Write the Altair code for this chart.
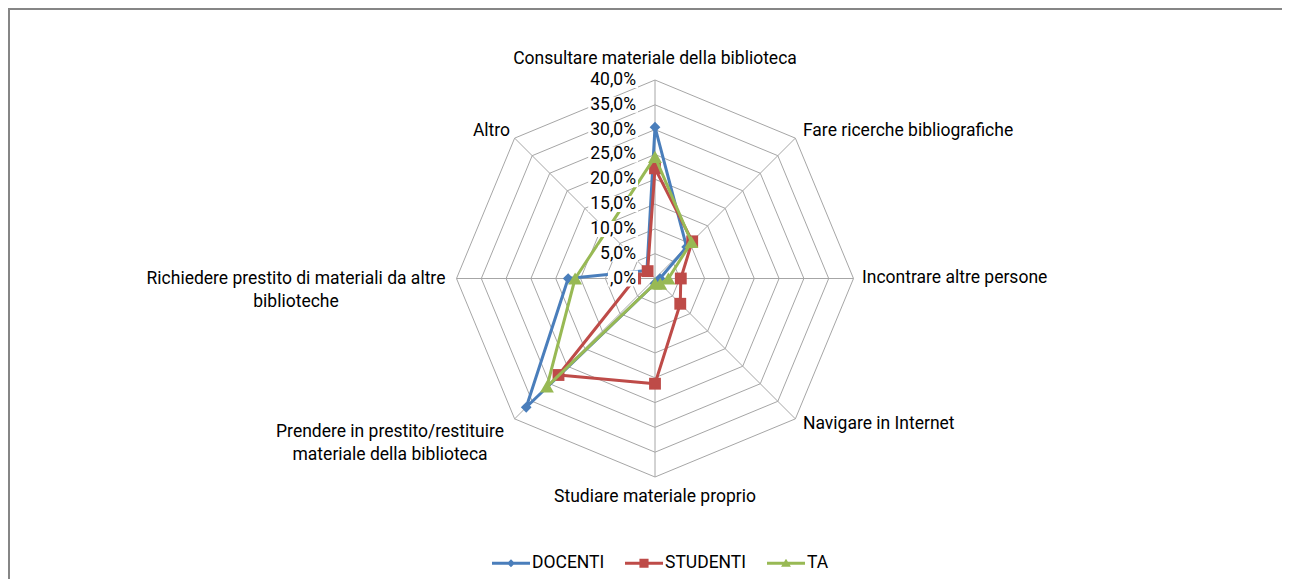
import altair as alt
import pandas as pd

# ---------------- data ----------------
categories = [
    "Consultare materiale della biblioteca",
    "Fare ricerche bibliografiche",
    "Incontrare altre persone",
    "Navigare in Internet",
    "Studiare materiale proprio",
    "Prendere in prestito/restituire\nmateriale della biblioteca",
    "Richiedere prestito di materiali da altre\nbiblioteche",
    "Altro",
]
series_names = ["DOCENTI", "STUDENTI", "TA"]
docenti = [30.5, 9.0, 1.0, 0.8, 1.0, 36.7, 17.5, 2.3]
studenti = [22.2, 10.6, 5.2, 7.2, 21.2, 27.5, 4.0, 2.1]
ta = [24.5, 10.4, 2.7, 1.5, 1.0, 30.8, 16.1, 13.7]
tick_values = [0, 5, 10, 15, 20, 25, 30, 35, 40]
tick_labels = [",0%", "5,0%", "10,0%", "15,0%", "20,0%", "25,0%", "30,0%", "35,0%", "40,0%"]

# ---------------- style / layout ----------------
series_colors = ["#4A7EBB", "#BE4B48", "#98B954"]
W, H = 1274, 571
CX, CY = 647.0, 270.5
R = 198.5
RMAX = 40.0
K = R / RMAX
FONT = "Roboto"
FS = 17.5
GRID = "#A6A6A6"
TEXT = "#000000"
LAB_GAP = 19

xs = alt.Scale(domain=[-CX / K, (W - CX) / K], nice=False, zero=False)
ys = alt.Scale(domain=[-(H - CY) / K, CY / K], nice=False, zero=False)


def X(f):
    return alt.X(f, type="quantitative", scale=xs, axis=None)


def Y(f):
    return alt.Y(f, type="quantitative", scale=ys, axis=None)


PX = "datum.r * sin(datum.idx * PI / 4)"
PY = "datum.r * cos(datum.idx * PI / 4)"

layers = []

# grid octagons
grid_df = pd.DataFrame(
    [{"level": lv, "idx": i, "r": lv} for lv in tick_values[1:] for i in range(9)]
)
layers.append(
    alt.Chart(grid_df)
    .transform_calculate(px=PX, py=PY)
    .mark_line(color=GRID, strokeWidth=1)
    .encode(X("px"), Y("py"), detail="level:N", order="idx:Q")
)

# spokes
spoke_df = pd.DataFrame(
    [{"idx": i, "r": r, "end": j} for i in range(len(categories)) for j, r in enumerate([0, tick_values[-1]])]
)
layers.append(
    alt.Chart(spoke_df)
    .transform_calculate(px=PX, py=PY)
    .mark_line(color=GRID, strokeWidth=1)
    .encode(X("px"), Y("py"), detail="idx:N", order="end:Q")
)

# series
marker = {"DOCENTI": ("diamond", 115), "STUDENTI": ("square", 140), "TA": ("triangle-up", 195)}
for name, vals, col in zip(series_names, [docenti, studenti, ta], series_colors):
    sdf = pd.DataFrame({"idx": list(range(len(vals) + 1)), "r": vals + vals[:1]})
    base = alt.Chart(sdf).transform_calculate(px=PX, py=PY)
    layers.append(
        base.mark_line(color=col, strokeWidth=3, strokeJoin="round").encode(
            X("px"), Y("py"), order="idx:Q"
        )
    )
    shp, sz = marker[name]
    layers.append(
        base.transform_filter(f"datum.idx < {len(vals)}")
        .mark_point(filled=True, shape=shp, size=sz, color=col, opacity=1, strokeWidth=0)
        .encode(X("px"), Y("py"))
    )

# radial tick labels with white boxes
tick_df = pd.DataFrame({"value": tick_values, "label": tick_labels})
tick_df["w"] = [
    FS * (0.562 * sum(ch.isdigit() for ch in s) + 0.197 + 0.733) for s in tick_labels
]
tick_base = alt.Chart(tick_df).transform_calculate(
    x1=f"-({LAB_GAP} + datum.w + 2) / {K}",
    x2=f"-({LAB_GAP} - 2) / {K}",
    y1=f"datum.value + 8 / {K}",
    y2=f"datum.value - 8 / {K}",
    tx=f"-{LAB_GAP} / {K}",
)
layers.append(
    tick_base.mark_rect(color="white", opacity=1).encode(
        X("x1"), x2="x2:Q", y=Y("y1"), y2="y2:Q"
    )
)
layers.append(
    tick_base.mark_text(align="right", baseline="middle", font=FONT, fontSize=FS, color=TEXT).encode(
        X("tx"), Y("value"), text="label:N"
    )
)

# category labels
label_style = {
    0: (0, -21.5, "center"),
    1: (7.6, -7, "left"),
    2: (8.5, -0.5, "left"),
    3: (7.6, 5, "left"),
    4: (0, 20, "center"),
    5: (-124.6, 13.6, "center"),
    6: (-160.5, 0, "center"),
    7: (-4.6, -7, "right"),
}
cat_df = pd.DataFrame(
    {
        "idx": list(range(len(categories))),
        "label": categories,
        "r": [tick_values[-1]] * len(categories),
        "ox": [label_style[i][0] for i in range(len(categories))],
        "oy": [label_style[i][1] for i in range(len(categories))],
        "al": [label_style[i][2] for i in range(len(categories))],
    }
)
for al in ["left", "center", "right"]:
    layers.append(
        alt.Chart(cat_df)
        .transform_filter(f"datum.al == '{al}'")
        .transform_calculate(
            px=f"{PX} + datum.ox / {K}", py=f"{PY} - datum.oy / {K}"
        )
        .mark_text(
            align=al, baseline="middle", font=FONT, fontSize=FS, color=TEXT,
            lineBreak="\n", lineHeight=23,
        )
        .encode(X("px"), Y("py"), text="label:N")
    )

# legend (line + marker symbols)
legend_paths = [
    "M-1,-0.075H1V0.075H-1Z M0,-0.21L0.21,0L0,0.21L-0.21,0Z",
    "M-1,-0.075H1V0.075H-1Z M-0.24,-0.24H0.24V0.24H-0.24Z",
    "M-1,-0.075H1V0.075H-1Z M0,-0.24L0.26,0.19L-0.26,0.19Z",
]
leg = alt.Legend(
    title=None, orient="none", legendX=484, legendY=536, direction="horizontal",
    symbolSize=1444, symbolStrokeWidth=0, symbolOpacity=1,
    labelFont=FONT, labelFontSize=FS, labelColor=TEXT, labelOffset=2,
    columnPadding=20, padding=0,
)
legend_df = pd.DataFrame({"series": series_names})
layers.append(
    alt.Chart(legend_df)
    .transform_filter("false")
    .mark_point(filled=True, opacity=1)
    .encode(
        color=alt.Color("series:N", scale=alt.Scale(domain=series_names, range=series_colors), legend=leg),
        shape=alt.Shape("series:N", scale=alt.Scale(domain=series_names, range=legend_paths), legend=leg),
    )
)

# chart border (only the top and left edges fall inside the frame)
layers.append(
    alt.Chart(pd.DataFrame({"a": [0]})).mark_rule(color="#868686", strokeWidth=2).encode(
        x=alt.value(0), x2=alt.value(W), y=alt.value(1)
    )
)
layers.append(
    alt.Chart(pd.DataFrame({"a": [0]})).mark_rule(color="#868686", strokeWidth=2).encode(
        x=alt.value(1), y=alt.value(0), y2=alt.value(H)
    )
)

chart = (
    alt.layer(*layers)
    .properties(width=W, height=H, autosize=alt.AutoSizeParams(type="none"), padding=0, background="white")
    .configure_view(stroke=None)
)

chart.save("out.html", embed_options={"renderer": "svg", "actions": False})
